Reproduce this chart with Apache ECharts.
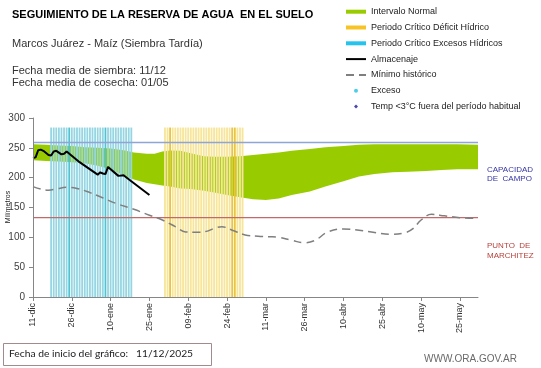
<!DOCTYPE html>
<html><head><meta charset="utf-8">
<script src="https://cdn.jsdelivr.net/npm/echarts@6/dist/echarts.min.js"></script>
<style>html,body{margin:0;padding:0;background:#fff}#c{width:541px;height:368px}</style>
</head><body><div id="c"></div>
<script>
const FONT = '"Liberation Sans", Arial, sans-serif';

const xTickLabels = ['11-dic','26-dic','10-ene','25-ene','09-feb','24-feb','11-mar','26-mar','10-abr','25-abr','10-may','25-may'];
const xTickDays = [0,15,30,45,60,75,90,105,120,135,150,165];
const xMaxDay = 172;

const bandDays  = [0,5,10,15,20,25,30,35,39,44,47,50,53,57,61,66,70,75,80,85,90,95,100,107,113,120,126,132,139,145,152,158,164,172];
const bandUpper = [256,255,254,253,251,250,249,246,242,240,240,244,245.5,245,241,236,235,235,236,238,240,242,245,248,251,253,255,256,256,256,256,256,256,255];
const bandLower = [229,228,227,226,224,220,214,204,197,191,189,187,185,182,181,178,175,171,167,164,162.5,165,171,177,185,194,202,206,209,210,211,213,214,214];

const almacenajeDays   = [0,1,2,3,4,6,7,8,9,11,12,13,18,25,26,27,28,29,33,35,38,45];
const almacenajeValues = [233,234,246,247,245,238,237,244,245,239,240,244,226,205,209,207,206,218,203,204,194,171];

const minimoDays   = [0,3,6,9,13,17,22,26,32,39,45,50,55,59,63,67,70,73,77,82,87,91,95,100,105,109,114,120,126,132,139,144,147,150,154,159,165,172];
const minimoValues = [185,181,179,181,184,182,175,168,157,147,137,129,118,109,108.5,110,115,117.7,112,104,102,101,100,95,91,95,109,114,112,108,105,108,115,129,138.5,136,133,132];

const excesoDays  = [7,8,9,10,11,12,13,14,15,16,17,18,19,20,21,22,23,24,25,26,27,28,29,30,31,32,33,34,35,36,37,38];
const excesoDark  = [14,28];
const deficitDays = [51,52,53,54,55,56,57,58,59,60,61,62,63,64,65,66,67,68,69,70,71,72,73,74,75,76,77,78,79,80,81];
const deficitDark = [53,77,78];
const periodTop = 284;

const capacidadCampo = 259;
const puntoMarchitez = 133;

const chart = echarts.init(document.getElementById('c'), null, {renderer: 'canvas'});

function periodData(days, dark, darkColor) {
  return days.map(d => dark.indexOf(d) >= 0 ? {value: [d, periodTop], itemStyle: {color: darkColor}} : [d, periodTop]);
}

const option = {
  backgroundColor: '#fff',
  animation: false,
  textStyle: {fontFamily: FONT},
  title: [
    {text: 'SEGUIMIENTO DE LA RESERVA DE AGUA  EN EL SUELO', left: 12, top: 8.5, padding: 0,
     textStyle: {fontFamily: FONT, fontSize: 11, fontWeight: 'bold', color: '#000', lineHeight: 13}},
    {text: 'Marcos Juárez - Maíz (Siembra Tardía)', left: 12, top: 37.5, padding: 0,
     textStyle: {fontFamily: FONT, fontSize: 11, fontWeight: 'normal', color: '#333', lineHeight: 13}},
    {text: 'Fecha media de siembra: 11/12\nFecha media de cosecha: 01/05', left: 12, top: 64.5, padding: 0,
     textStyle: {fontFamily: FONT, fontSize: 11, fontWeight: 'normal', color: '#333', lineHeight: 12}}
  ],
  legend: {
    orient: 'vertical', left: 345, top: 5.7, padding: 0, itemWidth: 20, itemHeight: 4, itemGap: 3.8,
    selectedMode: false,
    textStyle: {fontFamily: FONT, fontSize: 9, color: '#222', lineHeight: 12},
    data: [
      {name: 'Intervalo Normal', icon: 'rect', itemStyle: {color: '#99cc00'}},
      {name: 'Periodo Crítico Déficit Hídrico', icon: 'rect', itemStyle: {color: '#f7c325'}},
      {name: 'Periodo Crítico Excesos Hídricos', icon: 'rect', itemStyle: {color: '#26c4ec'}},
      {name: 'Almacenaje', itemStyle: {color: 'rgba(0,0,0,0)', borderWidth: 0}},
      {name: 'Mínimo histórico', itemStyle: {color: 'rgba(0,0,0,0)', borderWidth: 0}},
      {name: 'Exceso', icon: 'circle'},
      {name: 'Temp <3°C fuera del período habitual', icon: 'path://M0,-1L1,0L0,1L-1,0Z'}
    ]
  },
  grid: {left: 33, right: 63, top: 118, bottom: 71, containLabel: false, outerBoundsMode: 'none'},
  xAxis: {
    type: 'value', min: 0, max: xMaxDay, z: 10,
    axisLine: {show: true, lineStyle: {color: '#868686', width: 1}},
    axisTick: {show: true, length: 4, lineStyle: {color: '#868686'}, customValues: xTickDays},
    axisLabel: {rotate: 90, fontSize: 9, color: '#333', fontFamily: FONT, margin: 6,
      customValues: xTickDays,
      formatter: v => { const i = xTickDays.indexOf(v); return i >= 0 ? xTickLabels[i] : ''; }},
    splitLine: {show: false}
  },
  yAxis: {
    type: 'value', min: 0, max: 300, interval: 50, z: 10,
    axisLine: {show: true, lineStyle: {color: '#868686', width: 1}},
    axisTick: {show: true, length: 4, lineStyle: {color: '#868686'}},
    axisLabel: {fontSize: 10, color: '#404040', fontFamily: FONT, margin: 8},
    splitLine: {show: false}
  },
  series: [
    {name: 'Intervalo Normal', type: 'line', silent: true, symbol: 'none',
     data: bandDays.map((d, i) => [d, bandUpper[i]]),
     lineStyle: {width: 0}, itemStyle: {color: '#99cc00'},
     areaStyle: {color: '#99cc00', opacity: 1}, z: 1},
    {name: '_bandLower', type: 'line', silent: true, symbol: 'none',
     data: bandDays.map((d, i) => [d, bandLower[i]]),
     lineStyle: {width: 0}, itemStyle: {color: '#ffffff'},
     areaStyle: {color: '#ffffff', opacity: 1}, z: 1},
    {name: 'Periodo Crítico Excesos Hídricos', type: 'bar', barWidth: 1.8, barGap: '-100%', silent: true,
     data: periodData(excesoDays, excesoDark, '#4fc3d4'), itemStyle: {color: '#96d6e3'}, z: 2},
    {name: 'Periodo Crítico Déficit Hídrico', type: 'bar', barWidth: 1.8, barGap: '-100%', silent: true,
     data: periodData(deficitDays, deficitDark, '#eac43c'), itemStyle: {color: '#f7e59a'}, z: 2},
    {name: '_cc', type: 'line', symbol: 'none', silent: true,
     data: [[0, capacidadCampo], [xMaxDay, capacidadCampo]], lineStyle: {color: '#8ea5d6', width: 1.5}, z: 3},
    {name: '_pm', type: 'line', symbol: 'none', silent: true,
     data: [[0, puntoMarchitez], [xMaxDay, puntoMarchitez]], lineStyle: {color: '#c26a6a', width: 1.2}, z: 3},
    {name: 'Mínimo histórico', type: 'line', symbol: 'none', smooth: 0.4, silent: true,
     data: minimoDays.map((d, i) => [d, minimoValues[i]]),
     itemStyle: {color: '#7f7f7f'}, lineStyle: {color: '#7f7f7f', width: 1.5, type: [8, 5]}, z: 4},
    {name: 'Almacenaje', type: 'line', symbol: 'none', silent: true,
     data: almacenajeDays.map((d, i) => [d, almacenajeValues[i]]),
     itemStyle: {color: '#000'}, lineStyle: {color: '#000', width: 2}, z: 5},
    {name: 'Exceso', type: 'scatter', data: [], itemStyle: {color: '#22c0e0'}},
    {name: 'Temp <3°C fuera del período habitual', type: 'scatter', data: [], itemStyle: {color: '#1a1a9a'}}
  ],
  graphic: [
    {type: 'text', x: 8, y: 207, rotation: Math.PI / 2, silent: true,
     style: {text: 'Milímetros', font: '7px "Liberation Sans", Arial', fill: '#222', align: 'center', verticalAlign: 'middle'}},
    {type: 'text', left: 487, top: 165, silent: true,
     style: {text: 'CAPACIDAD\nDE  CAMPO', font: '8px "Liberation Sans", Arial', fill: '#3535a5', lineHeight: 9.5}},
    {type: 'text', left: 487, top: 241.2, silent: true,
     style: {text: 'PUNTO  DE\nMARCHITEZ', font: '8px "Liberation Sans", Arial', fill: '#b8403a', lineHeight: 9.5}},
    {type: 'rect', silent: true, shape: {x: 3.5, y: 343.5, width: 208, height: 22},
     style: {fill: '#fff', stroke: '#a08c8c', lineWidth: 1}},
    {type: 'text', left: 9, top: 348.5, silent: true,
     style: {text: 'Fecha de inicio del gráfico:   11/12/2025', font: '10.3px Lato, "Liberation Sans"', fill: '#222'}},
    {type: 'text', left: 424, top: 354, silent: true,
     style: {text: 'WWW.ORA.GOV.AR', font: '10px "Liberation Sans", Arial', fill: '#6a6a6a'}}
  ]
};
chart.setOption(option);
</script>
</body></html>
